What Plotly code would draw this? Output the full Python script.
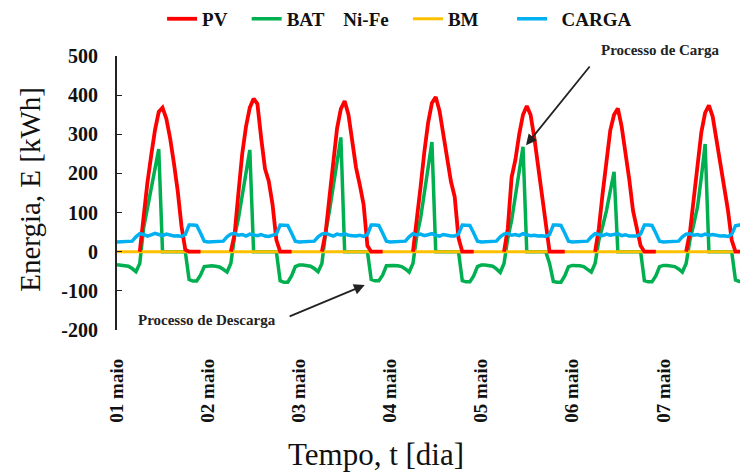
import plotly.graph_objects as go

N = None
# hour index within the week (0 = 01 maio 00:00)
hours = list(range(168))
day_labels = ["01 maio", "02 maio", "03 maio", "04 maio", "05 maio", "06 maio", "07 maio"]
day_ticks = [0, 24, 48, 72, 96, 120, 144]
y_ticks = [-200, -100, 0, 100, 200, 300, 400, 500]
y_tick_labels = ["-200", "-100", "0", "100", "200", "300", "400", "500"]

# PV generation [kWh], hourly
pv_d1 = [N, N, N, N, N, N, 0, 95, 175, 245, 310, 357, 368, 340, 290, 226, 155, 65, 5, 0, 0, 0, 0, N]
pv_d2 = [N, N, N, N, N, N, 0, 45, 150, 250, 320, 368, 391, 378, 290, 212, 180, 120, 30, 0, 0, 0, 0, N]
pv_d3 = [N, N, N, N, N, N, 0, 50, 140, 235, 315, 365, 385, 350, 280, 215, 170, 120, 15, 0, 0, 0, 0, N]
pv_d4 = [N, N, N, N, N, N, 0, 75, 165, 255, 330, 380, 395, 360, 300, 235, 180, 140, 35, 0, 0, 0, 0, N]
pv_d5 = [N, N, N, N, N, N, 0, 60, 190, 235, 300, 350, 372, 350, 290, 220, 150, 80, 0, 0, 0, 0, 0, N]
pv_d6 = [N, N, N, N, N, N, 0, 60, 150, 240, 310, 350, 366, 320, 255, 185, 105, 55, 15, 0, 0, 0, 0, N]
pv_d7 = [N, N, N, N, N, N, 0, 50, 135, 230, 305, 355, 374, 345, 285, 215, 160, 107, 30, 0, 0, 0, 0, N]

# Battery Ni-Fe [kWh], hourly (positive = charge, negative = discharge)
bat_d1 = [-33, -34, -35, -37, -43, -51, -30, 60, 110, 165, 215, 262, 0, 0, 0, 0, 0, 0, 0, -71, -75, -75, -60, -38]
bat_d2 = [-36, -36, -37, -39, -45, -52, -30, 40, 85, 140, 200, 260, 0, 0, 0, 0, 0, 0, 0, -74, -78, -78, -62, -38]
bat_d3 = [-34, -34, -35, -37, -43, -51, -30, 50, 105, 170, 235, 292, 0, 0, 0, 0, 0, 0, 0, -71, -74, -74, -60, -36]
bat_d4 = [-35, -35, -36, -38, -44, -52, -30, 40, 85, 150, 215, 280, 0, 0, 0, 0, 0, 0, 0, -74, -77, -77, -62, -38]
bat_d5 = [-34, -34, -35, -37, -44, -53, -30, 35, 80, 140, 200, 268, 0, 0, 0, 0, 0, 0, -30, -76, -78, -78, -62, -38]
bat_d6 = [-35, -35, -36, -38, -44, -52, -30, 30, 65, 105, 155, 204, 0, 0, 0, 0, 0, 0, 0, -74, -77, -77, -62, -38]
bat_d7 = [-35, -35, -36, -38, -44, -52, -30, 30, 70, 115, 190, 275, 0, 0, 0, 0, 0, 0, 0, -72, -76, -76, -62, -38]

# Load (CARGA) [kWh], hourly
carga_d1 = [25, 25, 25, 25, 27, 38, 46, 44, 40, 43, 47, 44, 41, 45, 42, 40, 41, 39, 44, 68, 68, 67, 48, 27]
carga_d2 = [25, 25, 25, 25, 27, 38, 45, 47, 42, 44, 40, 45, 43, 41, 44, 40, 39, 41, 45, 68, 68, 67, 48, 27]
carga_d3 = [25, 25, 25, 25, 27, 38, 45, 47, 43, 40, 45, 43, 46, 42, 41, 40, 42, 39, 44, 68, 68, 67, 48, 27]
carga_d4 = [25, 25, 25, 25, 27, 38, 46, 43, 45, 41, 44, 46, 42, 40, 44, 41, 40, 40, 45, 68, 68, 67, 48, 27]
carga_d5 = [25, 25, 25, 25, 27, 38, 45, 47, 42, 44, 41, 46, 43, 41, 42, 40, 41, 39, 44, 68, 68, 67, 48, 27]
carga_d6 = [25, 25, 25, 25, 27, 38, 46, 44, 41, 45, 42, 44, 46, 41, 43, 40, 40, 40, 45, 68, 68, 67, 48, 27]
carga_d7 = [25, 25, 25, 25, 27, 38, 45, 46, 42, 44, 41, 45, 42, 44, 41, 40, 41, 39, 44, 66, 68, 68, 68, 68]

# Biomass (BM) [kWh], zero over the whole week
bm = [0] * 168

pv = pv_d1 + pv_d2 + pv_d3 + pv_d4 + pv_d5 + pv_d6 + pv_d7
bat = bat_d1 + bat_d2 + bat_d3 + bat_d4 + bat_d5 + bat_d6 + bat_d7
carga = carga_d1 + carga_d2 + carga_d3 + carga_d4 + carga_d5 + carga_d6 + carga_d7

SERIF = "Liberation Serif"
NB = "\u00a0"

fig = go.Figure()
fig.add_trace(go.Scatter(x=hours, y=bat, mode="lines", name="BAT" + NB * 4 + "Ni-Fe" + NB * 3,
                         line=dict(color="#00B050", width=3.5), legendrank=2))
fig.add_trace(go.Scatter(x=hours, y=bm, mode="lines", name="BM" + NB * 6,
                         line=dict(color="#FFC000", width=3), legendrank=3))
fig.add_trace(go.Scatter(x=hours, y=pv, mode="lines", name="PV" + NB * 3,
                         line=dict(color="#FF0000", width=3.8), legendrank=1, connectgaps=False))
fig.add_trace(go.Scatter(x=hours, y=carga, mode="lines", name=NB * 2 + "CARGA",
                         line=dict(color="#00B0F0", width=3.5), legendrank=4))

fig.update_layout(
    width=748, height=475,
    margin=dict(l=109, r=8, t=48, b=153),
    plot_bgcolor="white", paper_bgcolor="white",
    font=dict(family=SERIF, color="black"),
    showlegend=True,
    legend=dict(orientation="h", xref="container", yref="container",
                x=0.206, y=0.977, xanchor="left", yanchor="middle",
                font=dict(family=SERIF, size=19, weight="bold", color="#111"),
                bgcolor="rgba(0,0,0,0)", traceorder="normal", borderwidth=0),
    xaxis=dict(range=[0, 166.3], tickmode="array", tickvals=day_ticks, ticktext=day_labels,
               tickangle=-90, tickfont=dict(family=SERIF, size=19, weight="bold", color="#111"),
               ticks="", ticklabelstandoff=24, showline=False, showgrid=False, zeroline=False,
               automargin=False),
    yaxis=dict(range=[-200, 500], tickmode="array", tickvals=y_ticks, ticktext=y_tick_labels,
               showline=True, linecolor="#222", linewidth=2, ticks="inside", ticklen=5, tickcolor="#222",
               tickfont=dict(family=SERIF, size=20, weight="bold", color="#111"), ticklabelstandoff=13,
               showgrid=False, zeroline=False, automargin=False),
)

# axis titles
fig.add_annotation(x=-0.138, y=0.515, xref="paper", yref="paper", xanchor="center", yanchor="middle",
                   text="Energia, E [kWh]", textangle=-90, showarrow=False,
                   font=dict(family=SERIF, size=29, color="#111"))
fig.add_annotation(x=0.4105, y=-0.456, xref="paper", yref="paper", xanchor="center", yanchor="middle",
                   text="Tempo, t [dia]", showarrow=False, font=dict(family=SERIF, size=31, color="#111"))

# arrows and captions
fig.add_annotation(x=107.8, y=272, ax=124.9, ay=477, xref="x", yref="y", axref="x", ayref="y",
                   showarrow=True, arrowhead=2, arrowsize=1.2, arrowwidth=1.8, arrowcolor="#222", text="")
fig.add_annotation(x=0.862, y=1.022, xref="paper", yref="paper", xanchor="center", yanchor="middle",
                   text="Processo de Carga", showarrow=False,
                   font=dict(family=SERIF, size=15, weight="bold", color="#222"))
fig.add_annotation(x=65.3, y=-85, ax=45.1, ay=-167, xref="x", yref="y", axref="x", ayref="y",
                   showarrow=True, arrowhead=2, arrowsize=1.2, arrowwidth=1.8, arrowcolor="#222", text="")
fig.add_annotation(x=0.1434, y=0.0365, xref="paper", yref="paper", xanchor="center", yanchor="middle",
                   text="Processo de Descarga", showarrow=False,
                   font=dict(family=SERIF, size=15, weight="bold", color="#222"))

fig.write_html("out.html")
